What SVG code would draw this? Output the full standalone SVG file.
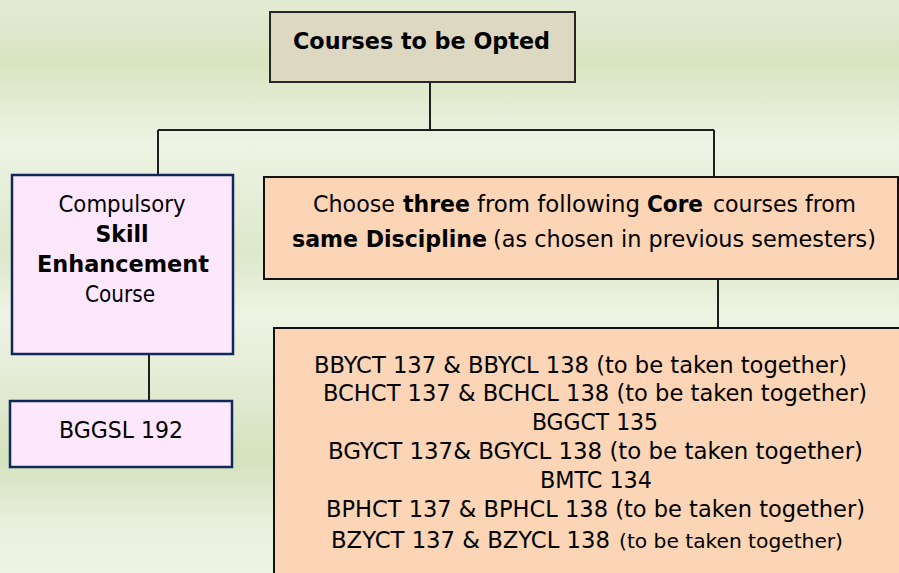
<svg xmlns="http://www.w3.org/2000/svg" width="899" height="573" viewBox="0 0 899 573">
<defs>
<linearGradient id="bg" x1="0" y1="0" x2="0" y2="1">
<stop offset="0" stop-color="#e4ebd5"/>
<stop offset="0.11" stop-color="#d8e4c1"/>
<stop offset="0.25" stop-color="#eef3e4"/>
<stop offset="0.44" stop-color="#dde8cb"/>
<stop offset="0.55" stop-color="#eef3e3"/>
<stop offset="0.66" stop-color="#e4ecd6"/>
<stop offset="0.80" stop-color="#d4e2bd"/>
<stop offset="0.92" stop-color="#eaf0df"/>
<stop offset="1" stop-color="#eef3e4"/>
</linearGradient>
<style>
.t{font-family:"DejaVu Sans Condensed","DejaVu Sans",sans-serif;font-size:23px;fill:#000}
.b{font-weight:bold}
.s{font-size:20px}
.box{stroke-width:2}
.conn{stroke:#1e1e1e;stroke-width:2;fill:none}
</style>
</defs>
<rect x="0" y="0" width="899" height="573" fill="url(#bg)"/>

<g id="connectors">
<path class="conn" d="M430,82 V130 M158,130 H714 M158,130 V175 M714,130 V177 M718,279 V328 M149,354 V401"/>
</g>

<g id="node-top">
<rect x="270" y="12" width="305" height="70" fill="#ddd8c1" stroke="#262626" class="box"/>
<text class="t b" x="293" y="49" textLength="257" lengthAdjust="spacingAndGlyphs">Courses to be Opted</text>
</g>

<g id="node-sec">
<rect x="12" y="175" width="221" height="179" fill="#fde7fd" stroke="#10285a" stroke-width="2.5"/>
<text class="t" x="122" y="212" text-anchor="middle" textLength="127" lengthAdjust="spacingAndGlyphs">Compulsory</text>
<text class="t b" x="122" y="242" text-anchor="middle" textLength="53" lengthAdjust="spacingAndGlyphs">Skill</text>
<text class="t b" x="123" y="272" text-anchor="middle" textLength="172" lengthAdjust="spacingAndGlyphs">Enhancement</text>
<text class="t" x="120" y="302" text-anchor="middle" textLength="70" lengthAdjust="spacingAndGlyphs">Course</text>
</g>

<g id="node-bggsl">
<rect x="10" y="401" width="222" height="66" fill="#fde7fd" stroke="#10285a" stroke-width="2.5"/>
<text class="t" x="59" y="438" textLength="124" lengthAdjust="spacingAndGlyphs">BGGSL 192</text>
</g>

<g id="node-core">
<rect x="264" y="177" width="634" height="102" fill="#fbd5b5" stroke="#111" class="box"/>
<text class="t" x="313" y="212" textLength="82" lengthAdjust="spacingAndGlyphs">Choose</text>
<text class="t b" x="403" y="212" textLength="67" lengthAdjust="spacingAndGlyphs">three</text>
<text class="t" x="477" y="212" textLength="163" lengthAdjust="spacingAndGlyphs">from following</text>
<text class="t b" x="647" y="212" textLength="56" lengthAdjust="spacingAndGlyphs">Core</text>
<text class="t" x="713" y="212" textLength="143" lengthAdjust="spacingAndGlyphs">courses from</text>
<text class="t b" x="292" y="247" textLength="195" lengthAdjust="spacingAndGlyphs">same Discipline</text>
<text class="t" x="493" y="247" textLength="383" lengthAdjust="spacingAndGlyphs">(as chosen in previous semesters)</text>
</g>

<g id="node-list">
<rect x="274" y="328" width="640" height="260" fill="#fbd5b5" stroke="#111" class="box"/>
<text class="t" x="314" y="373" textLength="533" lengthAdjust="spacingAndGlyphs">BBYCT 137 &amp; BBYCL 138 (to be taken together)</text>
<text class="t" x="323" y="401" textLength="544" lengthAdjust="spacingAndGlyphs">BCHCT 137 &amp; BCHCL  138 (to be taken together)</text>
<text class="t" x="532" y="430" textLength="126" lengthAdjust="spacingAndGlyphs">BGGCT 135</text>
<text class="t" x="328" y="459" textLength="535" lengthAdjust="spacingAndGlyphs">BGYCT 137&amp; BGYCL 138 (to be taken together)</text>
<text class="t" x="540" y="488" textLength="112" lengthAdjust="spacingAndGlyphs">BMTC 134</text>
<text class="t" x="326" y="517" textLength="539" lengthAdjust="spacingAndGlyphs">BPHCT 137 &amp; BPHCL 138 (to be taken together)</text>
<text class="t" x="331" y="548" textLength="279" lengthAdjust="spacingAndGlyphs">BZYCT 137 &amp; BZYCL  138</text>
<text class="t s" x="619" y="548" textLength="224" lengthAdjust="spacingAndGlyphs">(to be taken together)</text>
</g>
</svg>
